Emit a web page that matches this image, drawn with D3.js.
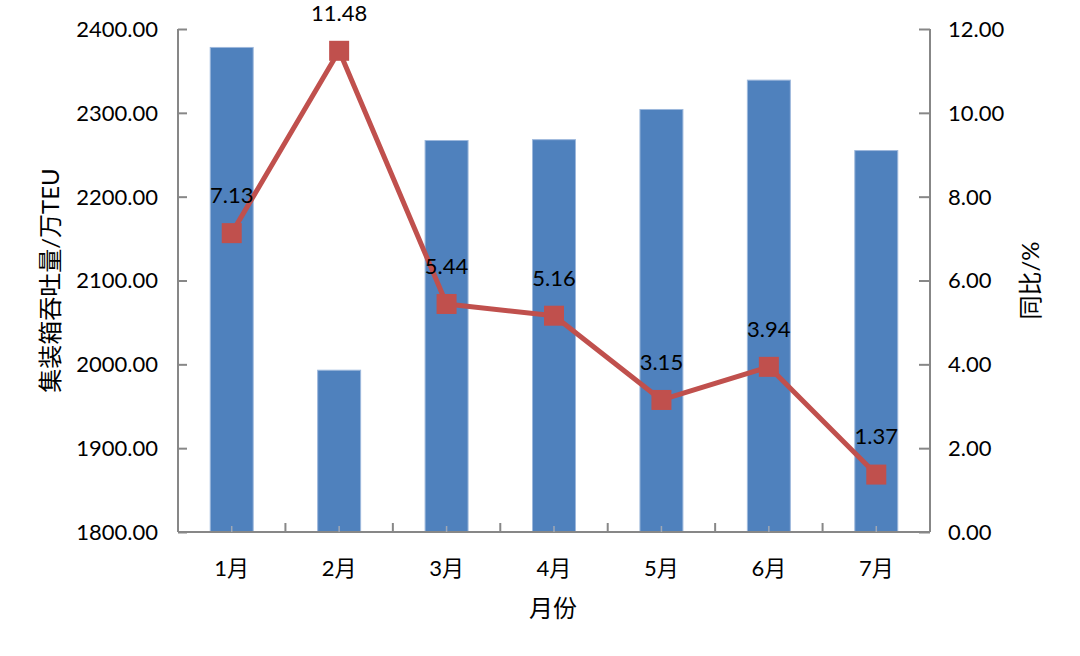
<!DOCTYPE html>
<html><head><meta charset="utf-8">
<script src="https://cdn.jsdelivr.net/npm/d3@7"></script>
<style>
html,body{margin:0;padding:0;background:#fff;}
text{font-family:"Lato","Noto Sans CJK SC",sans-serif;fill:#000;}
</style></head>
<body>
<svg id="chart" width="1080" height="656"></svg>
<script>
const months = ["1月","2月","3月","4月","5月","6月","7月"];
const throughput = [2378, 1993, 2267, 2268, 2304, 2339, 2255];
const yoy = [7.13, 11.48, 5.44, 5.16, 3.15, 3.94, 1.37];
const leftTicks = [1800, 1900, 2000, 2100, 2200, 2300, 2400];
const rightTicks = [0, 2, 4, 6, 8, 10, 12];
const leftTitle = "集装箱吞吐量/万TEU";
const rightTitle = "同比/%";
const xTitle = "月份";

const svg = d3.select("#chart");
const L = 178, R = 930, T = 29, B = 532;
const axisColor = "#878787";
const fs = 22;

const x = d3.scaleBand().domain(months).range([L, R]).paddingInner(0.6).paddingOuter(0.3);
const yL = d3.scaleLinear().domain([1800, 2400]).range([B, T]);
const yR = d3.scaleLinear().domain([0, 12]).range([B, T]);

// bars
svg.append("g").selectAll("rect").data(months).join("rect")
  .attr("x", d => x(d))
  .attr("width", x.bandwidth())
  .attr("y", (d, i) => yL(throughput[i]))
  .attr("height", (d, i) => B - yL(throughput[i]))
  .attr("fill", "#4F81BD")
  .attr("stroke", "#9db8dc").attr("stroke-width", 1);

// left axis
const gL = svg.append("g").attr("transform", `translate(${L},0)`)
  .call(d3.axisRight(yL).tickValues(leftTicks).tickSize(9).tickFormat(""));
gL.select(".domain").attr("stroke", axisColor).attr("stroke-width", 2).attr("d", `M0,${T}V${B}`);
gL.selectAll(".tick line").attr("stroke", axisColor).attr("stroke-width", 2);
svg.append("g").selectAll("text").data(leftTicks).join("text")
  .attr("x", L - 20).attr("y", d => yL(d)).attr("dy", "0.36em")
  .attr("text-anchor", "end").attr("font-size", fs)
  .text(d3.format(".2f"));

// right axis
const gR = svg.append("g").attr("transform", `translate(${R},0)`)
  .call(d3.axisLeft(yR).tickValues(rightTicks).tickSize(11).tickFormat(""));
gR.select(".domain").attr("stroke", axisColor).attr("stroke-width", 2).attr("d", `M0,${T}V${B}`);
gR.selectAll(".tick line").attr("stroke", axisColor).attr("stroke-width", 2);
svg.append("g").selectAll("text").data(rightTicks).join("text")
  .attr("x", R + 18).attr("y", d => yR(d)).attr("dy", "0.36em")
  .attr("text-anchor", "start").attr("font-size", fs)
  .text(d3.format(".2f"));

// bottom axis
svg.append("line").attr("x1", L).attr("x2", R).attr("y1", B).attr("y2", B)
  .attr("stroke", axisColor).attr("stroke-width", 2);
const step = x.step();
const boundaries = months.map((d, i) => x(d) + x.bandwidth() / 2 + step / 2).slice(0, months.length - 1);
svg.append("g").selectAll("line").data(boundaries).join("line")
  .attr("x1", d => d).attr("x2", d => d).attr("y1", B).attr("y2", B - 9)
  .attr("stroke", axisColor).attr("stroke-width", 2);
svg.append("g").selectAll("line").data(months).join("line")
  .attr("x1", d => x(d) + x.bandwidth() / 2).attr("x2", d => x(d) + x.bandwidth() / 2)
  .attr("y1", B).attr("y2", B - 6)
  .attr("stroke", "#a0a8b4").attr("stroke-width", 1.5);
svg.append("g").selectAll("text").data(months).join("text")
  .attr("x", d => x(d) + x.bandwidth() / 2).attr("y", B + 36).attr("dy", "0.36em")
  .attr("text-anchor", "middle").attr("font-size", fs)
  .text(d => d);

// line
const cx = d => x(d) + x.bandwidth() / 2;
const line = d3.line().x((d, i) => cx(months[i])).y(d => yR(d));
svg.append("path").datum(yoy).attr("d", line)
  .attr("fill", "none").attr("stroke", "#C0504D").attr("stroke-width", 5)
  .attr("stroke-linejoin", "round");
const ms = 20;
svg.append("g").selectAll("rect").data(yoy).join("rect")
  .attr("x", (d, i) => cx(months[i]) - ms / 2)
  .attr("y", d => yR(d) - ms / 2)
  .attr("width", ms).attr("height", ms)
  .attr("fill", "#C0504D");
svg.append("g").selectAll("text").data(yoy).join("text")
  .attr("x", (d, i) => cx(months[i])).attr("y", d => yR(d) - 38).attr("dy", "0.36em")
  .attr("text-anchor", "middle").attr("font-size", fs)
  .text(d3.format(".2f"));

// titles
svg.append("text").attr("transform", `translate(50,${(T + B) / 2}) rotate(-90)`)
  .attr("text-anchor", "middle").attr("dy", "0.36em").attr("font-size", 24)
  .attr("fill", "#222").text(leftTitle);
svg.append("text").attr("transform", `translate(1030,${(T + B) / 2}) rotate(-90)`)
  .attr("text-anchor", "middle").attr("dy", "0.36em").attr("font-size", 24)
  .attr("fill", "#222").text(rightTitle);
svg.append("text").attr("x", 553).attr("y", 608).attr("dy", "0.36em")
  .attr("text-anchor", "middle").attr("font-size", 24)
  .attr("fill", "#222").text(xTitle);
</script>
</body></html>
